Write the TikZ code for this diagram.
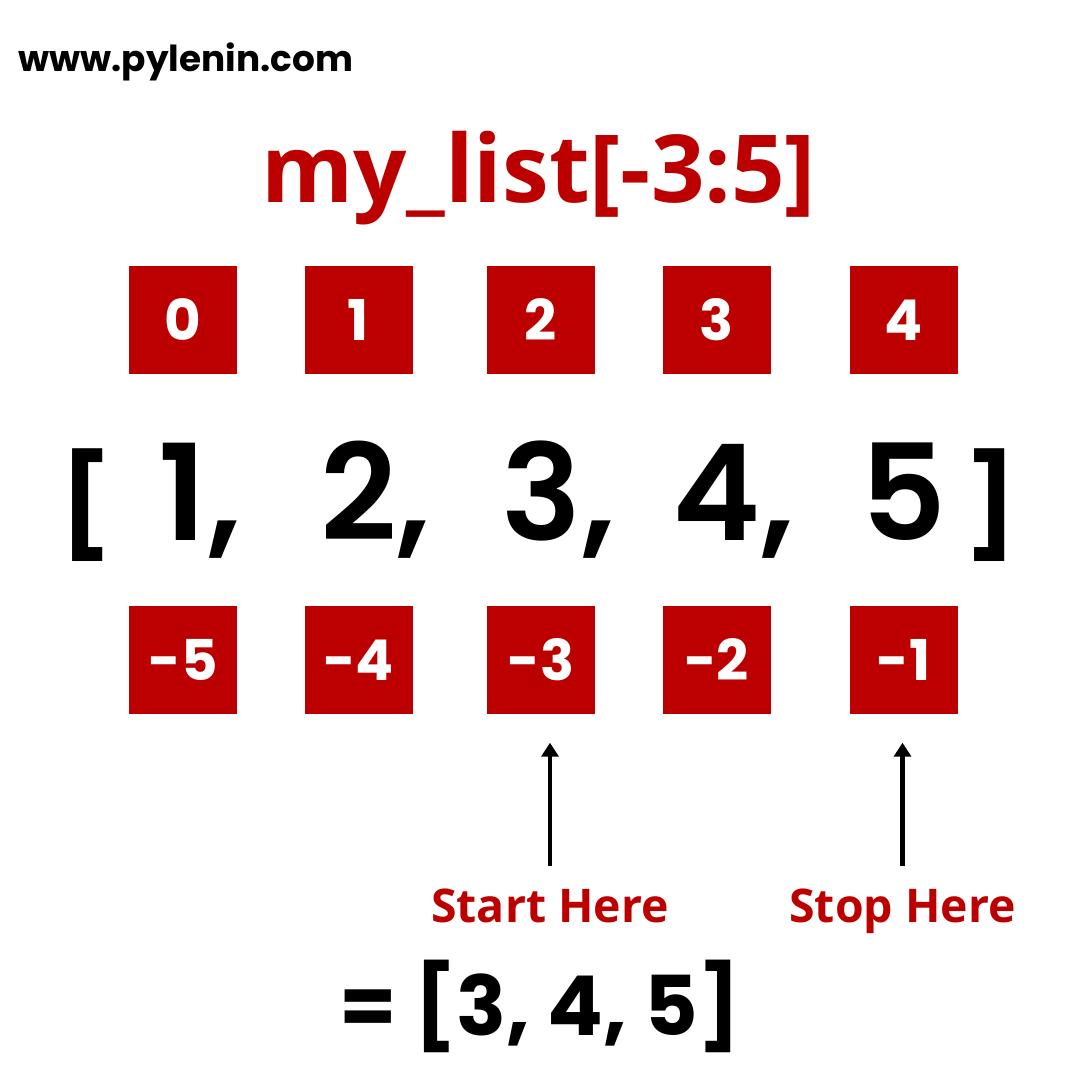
\documentclass[tikz,border=0pt]{standalone}
\usepackage{fontspec}
\setmainfont{Open Sans}
\newfontfamily\popfont{Poppins}
\newfontfamily\popmid{Poppins SemiBold}
\usetikzlibrary{arrows.meta}
\definecolor{listRed}{HTML}{BC0000}

\begin{document}
\begin{tikzpicture}[
    >={Triangle[width=0.17cm, length=0.14cm]},
    index/.style={rectangle, fill=listRed, minimum size=1.08cm, inner sep=0pt, text=white, font=\popfont\bfseries\fontsize{16}{16}\selectfont},
    entry/.style={anchor=base, inner sep=0pt, font=\popmid\fontsize{38}{38}\selectfont},
    brak/.style={anchor=base, inner sep=0pt, font=\popfont\bfseries\fontsize{28.6}{28.6}\selectfont},
    hint/.style={anchor=base, text=listRed, font=\bfseries\fontsize{13.2}{13.2}\selectfont},
    pointer/.style={->, line width=1.2pt, shorten >=0.28cm, shorten <=0.1cm},
  ]
  \useasboundingbox (0,0) rectangle (10.8,-10.8);

  % Header and title
  \node[anchor=base west, inner sep=0pt, font=\popfont\bfseries\fontsize{10.2}{10.2}\selectfont] (site) at (0.18,-0.72) {www.pylenin.com};
  \node[anchor=base, inner sep=0pt, text=listRed, font=\bfseries\fontsize{26.7}{26.7}\selectfont] (title) at (5.385,-2.03) {my\_list[-3:5]};

  % Positive indices
  \node[index] (pos0) at (1.83,-3.20)  {0};
  \node[index] (pos1) at (3.585,-3.20) {1};
  \node[index] (pos2) at (5.41,-3.20)  {2};
  \node[index] (pos3) at (7.165,-3.20) {3};
  \node[index] (pos4) at (9.035,-3.20) {4};

  % The list
  \node[brak] (lbrak) at (0.865,-5.40) {[};
  \node[entry] (val1) at (pos0 |- 0,-5.40) {1\rlap{,}};
  \node[entry] (val2) at (pos1 |- 0,-5.40) {2\rlap{,}};
  \node[entry] (val3) at (pos2 |- 0,-5.40) {3\rlap{,}};
  \node[entry] (val4) at (pos3 |- 0,-5.40) {4\rlap{,}};
  \node[entry] (val5) at (pos4 |- 0,-5.40) {5};
  \node[brak] (rbrak) at (9.915,-5.40) {]};

  % Negative indices
  \node[index] (neg5) at (1.83,-6.60)  {-5};
  \node[index] (neg4) at (3.585,-6.60) {-4};
  \node[index] (neg3) at (5.41,-6.60)  {-3};
  \node[index] (neg2) at (7.165,-6.60) {-2};
  \node[index] (neg1) at (9.035,-6.60) {-1};

  % Start and stop
  \node[hint] (start) at (5.50,-9.22)  {Start Here};
  \node[hint] (stop)  at (9.025,-9.22) {Stop Here};
  \draw[pointer] (start.north) -- (start.north |- neg3.south);
  \draw[pointer] (stop.north) -- (stop.north |- neg1.south);

  % Result
  \node[anchor=base, inner sep=0pt, font=\popfont\bfseries\fontsize{23.5}{23.5}\selectfont] (result) at (5.40,-10.35) {= [3, 4, 5]};

\end{tikzpicture}
\end{document}
